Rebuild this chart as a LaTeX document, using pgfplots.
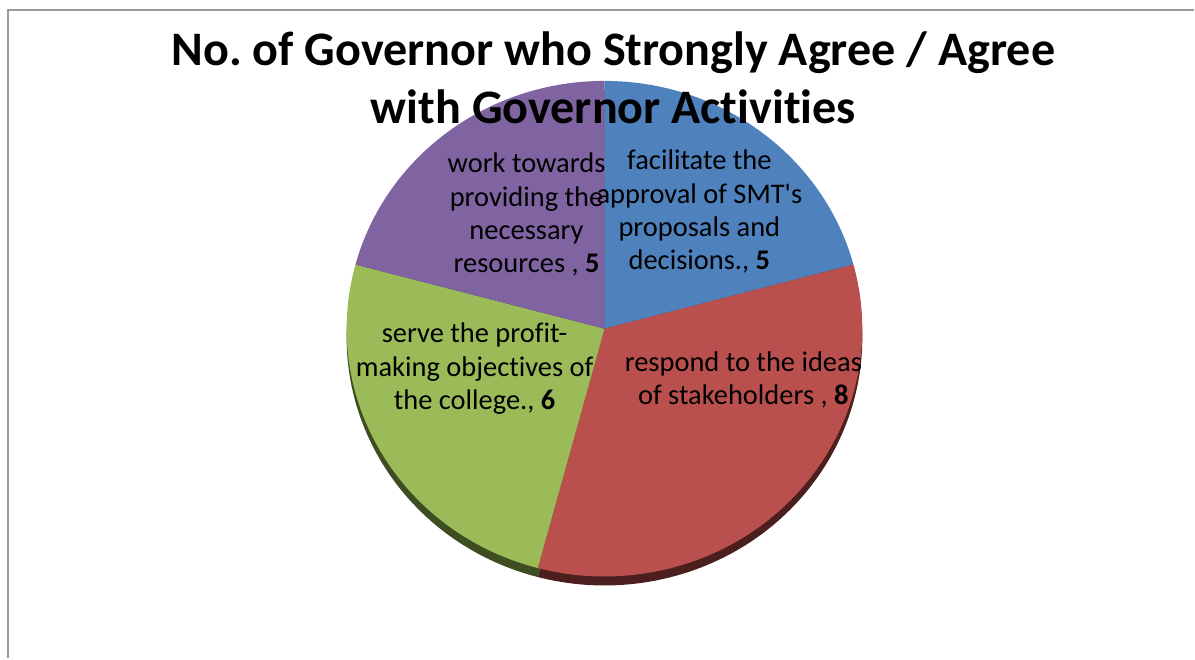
\documentclass[border=0pt]{standalone}
\usepackage{pgfplots}
\usepackage{pgfplotstable}
\usepackage{fontspec}
\setmainfont{Carlito}[Ligatures={TeXOff,NoCommon}]
\pgfplotsset{compat=1.18}
\frenchspacing

\definecolor{slice0}{HTML}{4F81BD}
\definecolor{slice1}{HTML}{BA504D}
\definecolor{slice2}{HTML}{9BBB59}
\definecolor{slice3}{HTML}{8064A2}
\definecolor{slice0d}{HTML}{233A57}
\definecolor{slice1d}{HTML}{4C1F1F}
\definecolor{slice2d}{HTML}{3F4D22}
\definecolor{slice3d}{HTML}{3A2D4A}
\definecolor{framegray}{HTML}{9A9A9A}

% governors agreeing, clockwise from 12 o'clock
\pgfplotstableread{
value
5
8
6
5
}\piedata

% pie centre and radii (pixel units, 1 unit = 0.01cm)
\def\cx{605}
\def\cy{330}
\def\rx{2.58cm}
\def\ry{2.48cm}

\pgfplotstablegetrowsof{\piedata}
\pgfmathtruncatemacro\nslices{\pgfplotsretval-1}
\gdef\total{0}
\foreach \i in {0,...,\nslices}{
  \pgfplotstablegetelem{\i}{value}\of\piedata
  \pgfmathsetmacro\t{\total+\pgfplotsretval}
  \global\let\total\t
}
\gdef\piecmds{}
\gdef\shadowcmds{}
\gdef\cum{0}
\foreach \i in {0,...,\nslices}{
  \pgfplotstablegetelem{\i}{value}\of\piedata
  \pgfmathsetmacro\a{90-360*\cum/\total}
  \pgfmathsetmacro\b{90-360*(\cum+\pgfplotsretval)/\total}
  \pgfmathsetmacro\c{\cum+\pgfplotsretval}
  \global\let\cum\c
  \xdef\shadowcmds{\unexpanded\expandafter{\shadowcmds}%
    \noexpand\fill[slice\i d] (axis cs:\cx,\cy-9) -- ++(\a:\rx\space and \ry)
      arc[start angle=\a, end angle=\b, x radius=\rx, y radius=\ry] -- cycle;}
  \xdef\piecmds{\unexpanded\expandafter{\piecmds}%
    \noexpand\fill[slice\i] (axis cs:\cx,\cy) -- ++(\a:\rx\space and \ry)
      arc[start angle=\a, end angle=\b, x radius=\rx, y radius=\ry] -- cycle;}
}

\begin{document}
\begin{tikzpicture}
\begin{axis}[
    scale only axis,
    width=11.95cm, height=6.59cm,
    xmin=0, xmax=1195, ymin=0, ymax=659,
    hide axis,
    clip=false,
]
  \path (axis cs:0,0) rectangle (axis cs:1195,659);
  \draw[framegray, line width=0.6pt] (axis cs:8,0) -- (axis cs:8,649) -- (axis cs:1195,649);

  \shadowcmds
  \piecmds

  \begin{scope}[every node/.style={align=center, text=black,
      font=\fontsize{8.1pt}{9.5pt}\selectfont}]
    \node at (axis cs:700,447) {facilitate the\\approval of SMT's\\proposals and\\decisions., \textbf{5}};
    \node at (axis cs:527,444) {work towards\\providing the\\necessary\\resources , \textbf{5}};
    \node at (axis cs:475,290) {serve the profit-\\making objectives of\\the college., \textbf{6}};
    \node at (axis cs:744,279) {respond to the ideas\\of stakeholders , \textbf{8}};
  \end{scope}

  \node[align=center, font=\fontsize{13.7pt}{16.4pt}\selectfont\bfseries]
    at (axis cs:614,581) {No. of Governor who Strongly Agree / Agree\\with Governor Activities};
\end{axis}
\end{tikzpicture}
\end{document}
